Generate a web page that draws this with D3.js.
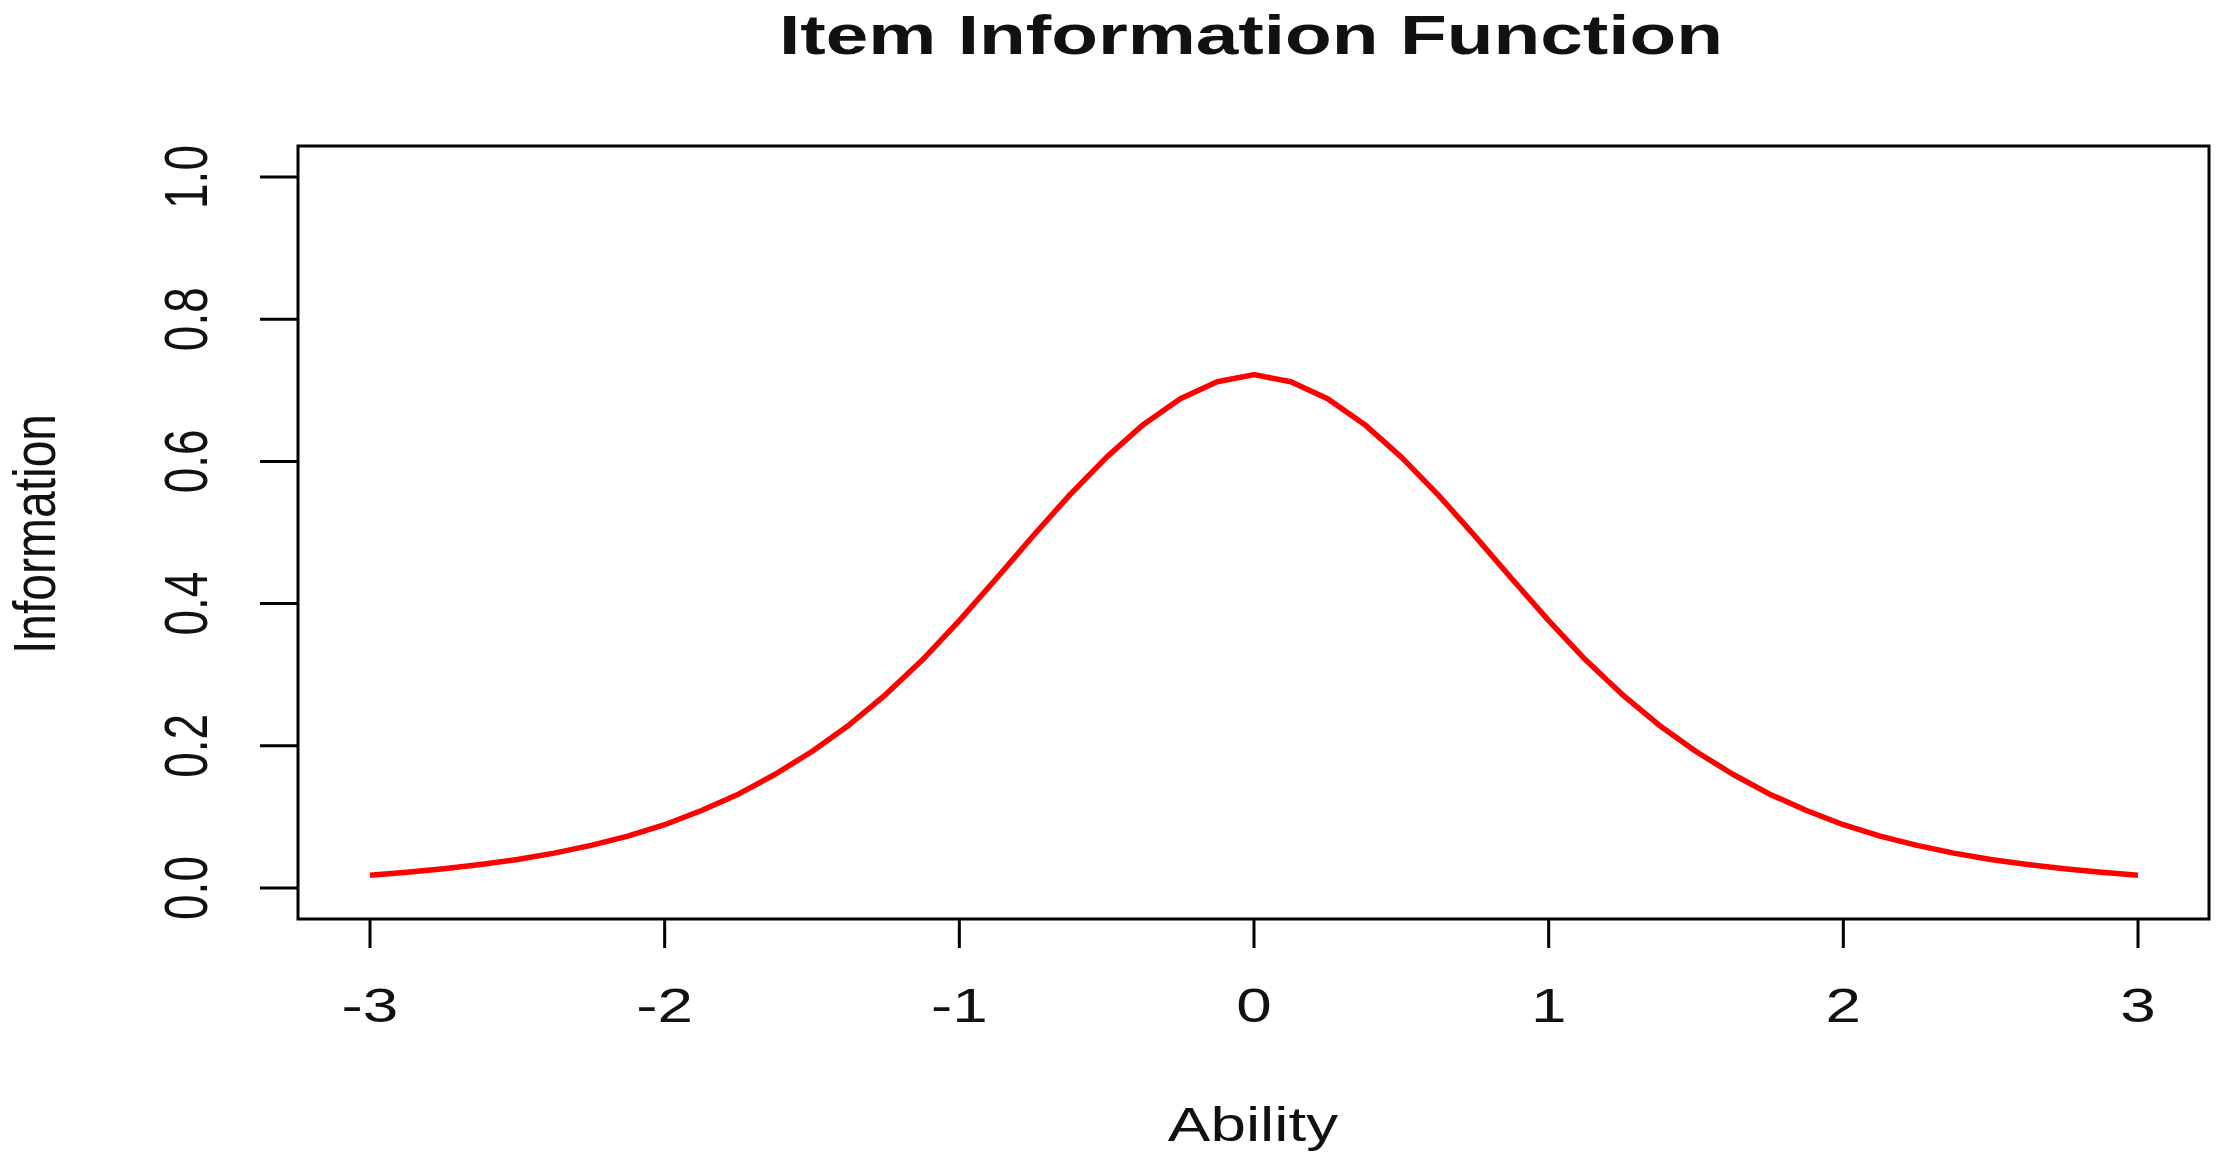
<!DOCTYPE html>
<html>
<head>
<meta charset="utf-8">
<script src="https://cdn.jsdelivr.net/npm/d3@7"></script>
<style>
  html, body { margin: 0; padding: 0; background: #ffffff; }
  svg { display: block; }
  text { font-family: "Liberation Sans", Arial, Helvetica, sans-serif; fill: #111; }
</style>
</head>
<body>
<script>
// ---- data ----
const ability = [-3, -2.875, -2.75, -2.625, -2.5, -2.375, -2.25, -2.125, -2, -1.875, -1.75, -1.625, -1.5, -1.375, -1.25, -1.125, -1, -0.875, -0.75, -0.625, -0.5, -0.375, -0.25, -0.125, 0,
                 0.125, 0.25, 0.375, 0.5, 0.625, 0.75, 0.875, 1, 1.125, 1.25, 1.375, 1.5, 1.625, 1.75, 1.875, 2, 2.125, 2.25, 2.375, 2.5, 2.625, 2.75, 2.875, 3];
const information = [0.018, 0.022, 0.027, 0.033, 0.040, 0.049, 0.060, 0.073, 0.089, 0.109, 0.132, 0.160, 0.192, 0.229, 0.272, 0.321, 0.376, 0.435, 0.495, 0.553, 0.606, 0.652, 0.688, 0.712, 0.722,
                     0.712, 0.688, 0.652, 0.606, 0.553, 0.495, 0.435, 0.376, 0.321, 0.272, 0.229, 0.192, 0.160, 0.132, 0.109, 0.089, 0.073, 0.060, 0.049, 0.040, 0.033, 0.027, 0.022, 0.018];
const xTicks = [-3, -2, -1, 0, 1, 2, 3];
const yTicks = [0, 0.2, 0.4, 0.6, 0.8, 1.0];
const xTickLabels = ["-3", "-2", "-1", "0", "1", "2", "3"];
const yTickLabels = ["0.0", "0.2", "0.4", "0.6", "0.8", "1.0"];
const titleText = "Item Information Function";
const xLabelText = "Ability";
const yLabelText = "Information";

// ---- layout ----
const W = 2217, H = 1159;
const box = { left: 298, right: 2209, top: 146, bottom: 919 };
const stretch = 1.33;

const svg = d3.select("body").append("svg").attr("width", W).attr("height", H);

const x = d3.scaleLinear().domain([-3, 3]).range([370, 2138]);
const y = d3.scaleLinear().domain([0, 1]).range([888, 177]);

// plot box
svg.append("rect")
  .attr("x", box.left).attr("y", box.top)
  .attr("width", box.right - box.left).attr("height", box.bottom - box.top)
  .attr("fill", "none").attr("stroke", "#000").attr("stroke-width", 3);

// x axis ticks
const xAxis = svg.append("g");
xAxis.selectAll("line").data(xTicks).enter().append("line")
  .attr("x1", d => x(d)).attr("x2", d => x(d))
  .attr("y1", box.bottom).attr("y2", box.bottom + 29)
  .attr("stroke", "#000").attr("stroke-width", 3);
xAxis.selectAll("text").data(xTicks).enter().append("text")
  .attr("transform", d => `translate(${x(d)},1022) scale(${stretch},1)`)
  .attr("text-anchor", "middle")
  .attr("font-size", 48)
  .text((d, i) => xTickLabels[i]);

// y axis ticks
const yAxis = svg.append("g");
yAxis.selectAll("line").data(yTicks).enter().append("line")
  .attr("x1", box.left - 38).attr("x2", box.left)
  .attr("y1", d => y(d)).attr("y2", d => y(d))
  .attr("stroke", "#000").attr("stroke-width", 3);
yAxis.selectAll("text").data(yTicks).enter().append("text")
  .attr("transform", d => `translate(207,${y(d)}) scale(${stretch},1) rotate(-90)`)
  .attr("text-anchor", "middle")
  .attr("font-size", 46)
  .text((d, i) => yTickLabels[i]);

// curve
const line = d3.line()
  .x((d, i) => x(ability[i]))
  .y(d => y(d))
  .curve(d3.curveLinear);
svg.append("path")
  .datum(information)
  .attr("d", line)
  .attr("fill", "none")
  .attr("stroke", "#ff0000")
  .attr("stroke-width", 5.5)
  .attr("stroke-linejoin", "round")
  .attr("stroke-linecap", "butt");

// title
svg.append("text")
  .attr("x", 1251).attr("y", 54)
  .attr("text-anchor", "middle")
  .attr("font-size", 56)
  .attr("font-weight", "bold")
  .attr("textLength", 944)
  .attr("lengthAdjust", "spacingAndGlyphs")
  .text(titleText);

// axis labels
svg.append("text")
  .attr("transform", `translate(1253,1141) scale(${stretch},1)`)
  .attr("text-anchor", "middle")
  .attr("font-size", 48)
  .text(xLabelText);

svg.append("text")
  .attr("transform", `translate(55,534) scale(1.25,1) rotate(-90)`)
  .attr("text-anchor", "middle")
  .attr("font-size", 48)
  .text(yLabelText);
</script>
</body>
</html>
